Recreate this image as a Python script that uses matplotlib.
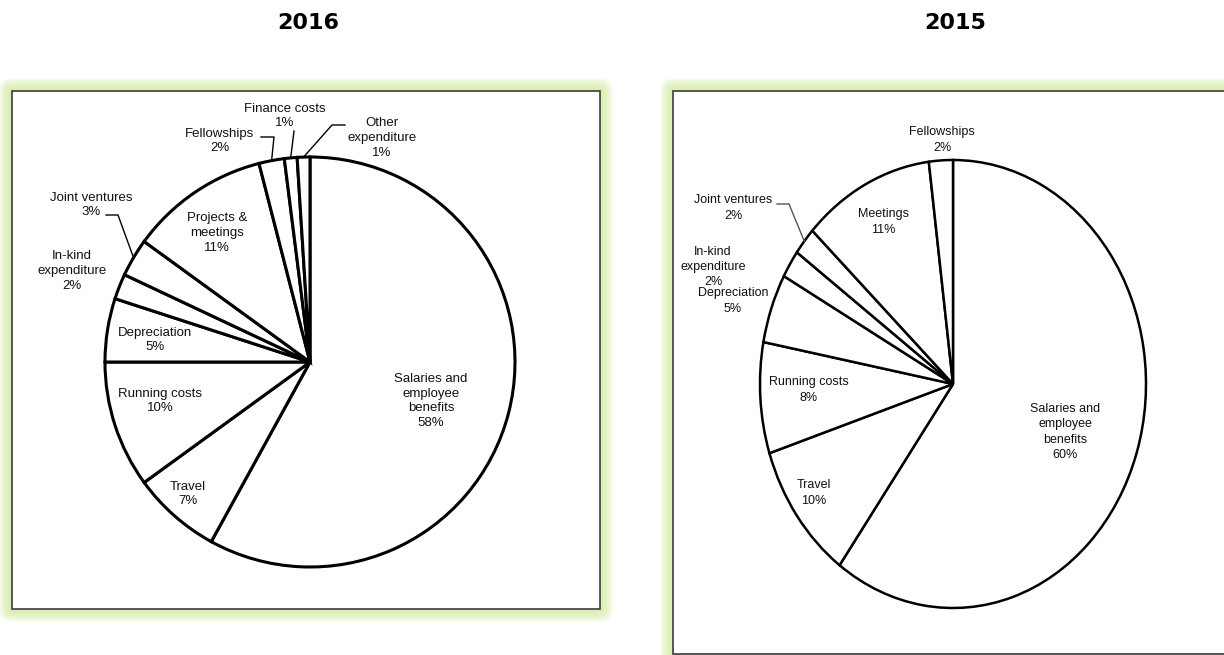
import numpy as np
import matplotlib.pyplot as plt
from matplotlib.patches import FancyBboxPatch
from matplotlib.transforms import IdentityTransform

W, H = 1224, 655

# 2016 expenditure split (clockwise from 12 o'clock)
labels_2016 = ["Salaries and\nemployee\nbenefits", "Travel", "Running costs", "Depreciation",
               "In-kind\nexpenditure", "Joint ventures", "Projects &\nmeetings",
               "Fellowships", "Finance costs", "Other\nexpenditure"]
values_2016 = [58, 7, 10, 5, 2, 3, 11, 2, 1, 1]

# 2015 expenditure split
labels_2015 = ["Salaries and\nemployee\nbenefits", "Travel", "Running costs", "Depreciation",
               "In-kind\nexpenditure", "Joint ventures", "Meetings", "Fellowships"]
values_2015 = [60, 10, 8, 5, 2, 2, 11, 2]

# label placement in pixels (layout only)
pos_2016 = [(431, 401), (188, 494), (160, 401), (155, 340), (72, 271), (91, 205),
            (217, 233), (220, 141), (285, 116), (382, 138)]
lead_2016 = {5: [(106, 215), (118, 215)], 7: [(261, 137), (274, 137)],
             8: [(294, 131)], 9: [(345, 125), (332, 125)]}
pos_2015 = [(1065, 432), (814, 493), (809, 390), (733, 301), (713, 267), (733, 208),
            (883, 222), (942, 140)]
lead_2015 = {5: [(777, 204), (789, 204)]}

fig = plt.figure(figsize=(W / 100, H / 100), dpi=100)


def box(x0, y0, x1, y1):
    # soft green glow then white framed panel, pixel coords from top-left
    for i in range(10):
        d = 13 - i * 1.2
        fig.add_artist(FancyBboxPatch((x0 - d, H - y1 - d), (x1 - x0) + 2 * d, (y1 - y0) + 2 * d,
                                      boxstyle="round,pad=0,rounding_size=%f" % d,
                                      transform=IdentityTransform(), fc="#cdeb95", ec="none",
                                      alpha=0.11, zorder=-3))
    fig.add_artist(FancyBboxPatch((x0, H - y1), x1 - x0, y1 - y0, boxstyle="square,pad=0",
                                  transform=IdentityTransform(), fc="white", ec="#3c3c3c",
                                  lw=1.2, zorder=-2))


def draw_pie(cx, cy, rx, ry, values, labels, pos, leads, lw, lead_col, fsize, lsp):
    ax = fig.add_axes([(cx - rx) / W, (H - cy - ry) / H, 2 * rx / W, 2 * ry / H])
    wedges, _ = ax.pie(values, startangle=90, counterclock=False, radius=1,
                       wedgeprops=dict(fc="white", ec="black", lw=lw, joinstyle="miter"))
    for w in wedges:
        w.set_clip_on(False)
    ax.set_aspect("auto")
    ax.set_xlim(-1, 1)
    ax.set_ylim(-1, 1)
    ax.axis("off")
    inv = ax.transData.inverted()

    def d(p):
        return inv.transform((p[0], H - p[1]))

    for lab, v, p in zip(labels, values, pos):
        x, y = d(p)
        ax.text(x, y, "%s\n%d%%" % (lab, v), ha="center", va="center", fontsize=fsize,
                family="Liberation Sans", linespacing=lsp, color="#111111", clip_on=False)
    cum = np.cumsum([0] + values)
    for i, pts in leads.items():
        mid = np.deg2rad(90 - (cum[i] + values[i] / 2) * 3.6)
        xs = [d(p)[0] for p in pts] + [np.cos(mid)]
        ys = [d(p)[1] for p in pts] + [np.sin(mid)]
        ax.plot(xs, ys, color=lead_col, lw=1, clip_on=False)
    return ax


box(12, 91, 600, 609)
box(673, 91, 1240, 654)

draw_pie(310, 362, 205, 205, values_2016, labels_2016, pos_2016, lead_2016, 2.2, "black", 9.5, 1.3)
draw_pie(953, 384, 193, 224, values_2015, labels_2015, pos_2015, lead_2015, 1.8, "#555555", 9, 1.37)

fig.text(308 / W, 1 - 23 / H, "2016", ha="center", va="center", fontsize=16,
         weight="bold", family="DejaVu Sans")
fig.text(955 / W, 1 - 23 / H, "2015", ha="center", va="center", fontsize=16,
         weight="bold", family="DejaVu Sans")

fig.savefig("out.png", dpi=100)
